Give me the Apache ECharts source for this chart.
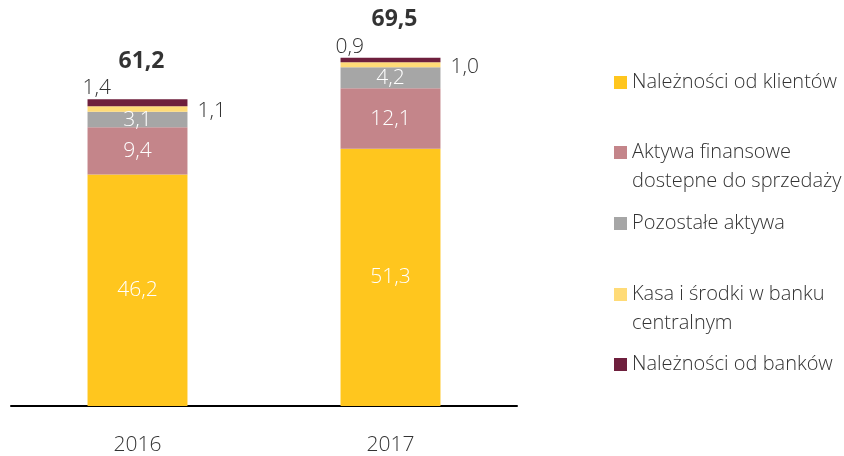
<!DOCTYPE html>
<html lang="pl">
  <head>
    <meta charset="utf-8" />
    <title>ECharts</title>
    <script src="https://cdn.jsdelivr.net/npm/echarts@6/dist/echarts.min.js"></script>
    <style>
      * { margin: 0; padding: 0; }
      html, body { width: 844px; height: 456px; background: #fff; }
    </style>
  </head>
  <body>
    <div id="main" style="width: 844px; height: 456px;"></div>
    <script type="text/javascript">
      // dane z wykresu (mld zł)
      const years = ['2016', '2017'];
      const klienci = [46.2, 51.3];
      const aktywaFin = [9.4, 12.1];
      const pozostale = [3.1, 4.2];
      const kasa = [1.1, 1.0];
      const banki = [1.4, 0.9];
      const totals = [61.2, 69.5];

      const FONT = "'Open Sans', 'Noto Sans', sans-serif";
      const fmt = v => v.toFixed(1).replace('.', ',');
      const lbl = p => fmt(p.value);

      const myChart = echarts.init(document.getElementById('main'));

      function legendItem(name, text, top) {
        return {
          data: [name],
          orient: 'vertical',
          left: 614,
          top: top,
          padding: 0,
          icon: 'rect',
          itemWidth: 13,
          itemHeight: 13,
          selectedMode: false,
          formatter: () => text,
          textStyle: {
            fontFamily: FONT, fontSize: 20, fontWeight: 300,
            color: '#333', lineHeight: 29
          }
        };
      }

      const bar = (name, data, color, label) => ({
        name: name,
        type: 'bar',
        stack: 'a',
        barWidth: '39.5%',
        data: data,
        itemStyle: { color: color },
        label: Object.assign({
          show: true, formatter: lbl,
          fontFamily: FONT, fontSize: 21, fontWeight: 300
        }, label)
      });

      const option = {
        animation: false,
        grid: { left: 11, right: 327, top: 5, bottom: 45 },
        legend: [
          legendItem('Należności od klientów', 'Należności od klientów', 68),
          legendItem('Aktywa finansowe dostepne do sprzedaży', ' \nAktywa finansowe\ndostepne do sprzedaży', 109),
          legendItem('Pozostałe aktywa', 'Pozostałe aktywa', 209),
          legendItem('Kasa i środki w banku centralnym', ' \nKasa i środki w banku\ncentralnym', 251),
          legendItem('Należności od banków', 'Należności od banków', 350)
        ],
        xAxis: {
          type: 'category',
          data: years,
          axisLine: { lineStyle: { color: '#000', width: 2 } },
          axisTick: { show: false },
          axisLabel: {
            margin: 29, color: '#333',
            fontFamily: FONT, fontSize: 21, fontWeight: 300
          }
        },
        yAxis: {
          type: 'value', min: 0, max: 80,
          show: false, splitLine: { show: false }
        },
        series: [
          bar('Należności od klientów', klienci, '#FFC61E', { position: 'inside', color: '#fff' }),
          bar('Aktywa finansowe dostepne do sprzedaży', aktywaFin, '#C4858A', { position: 'inside', color: '#fff' }),
          bar('Pozostałe aktywa', pozostale, '#A6A6A6', { position: 'inside', color: '#fff' }),
          bar('Kasa i środki w banku centralnym', kasa, '#FFDB77', { position: 'right', distance: 10, color: '#333', offset: [0, 2] }),
          bar('Należności od banków', banki, '#6E1F3D', {
            position: [-5, -11], align: 'left', verticalAlign: 'middle', color: '#333'
          }),
          {
            name: 'suma',
            type: 'scatter',
            symbolSize: 0,
            silent: true,
            data: totals,
            label: {
              show: true, position: 'inside', offset: [4, -38],
              formatter: lbl, color: '#000',
              fontFamily: FONT, fontSize: 23, fontWeight: 'bold'
            }
          }
        ]
      };
      myChart.setOption(option);
    </script>
  </body>
</html>
